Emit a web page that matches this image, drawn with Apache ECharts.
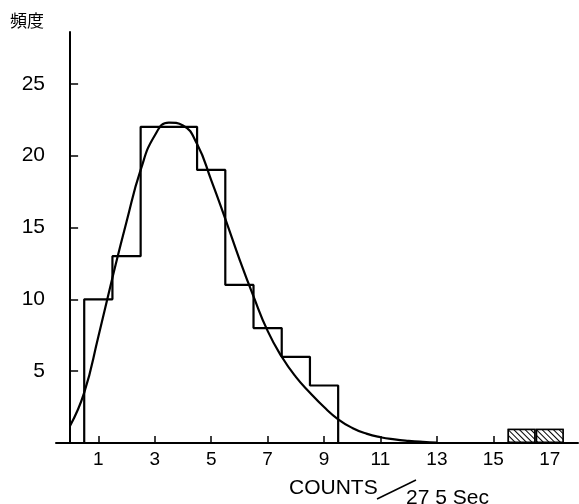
<!DOCTYPE html>
<html>
<head>
<meta charset="utf-8">
<script src="https://cdn.jsdelivr.net/npm/echarts@6/dist/echarts.min.js"></script>
<style>
  html, body { margin: 0; padding: 0; background: #fff; }
  #chart { width: 579px; height: 504px; }
</style>
</head>
<body>
<div id="chart"></div>
<script>
// histogram bins (counts per 27.5 s) and frequency
var bins = [1, 2, 3, 4, 5, 6, 7, 8, 9];
var freq = [10, 13, 22, 22, 19, 11, 8, 6, 4];

// hatched bins at the far right
var hatchBins = [16, 17];
var hatchFreq = [1, 1];

// fitted curve
var curveX = [0, 0.5, 1, 1.5, 2, 2.5, 3, 3.5, 4, 4.5, 5, 5.5, 6, 6.5, 7, 7.5, 8, 8.5, 9, 9.5, 10, 10.5, 11, 11.5, 12, 12.5, 13];
var curveY = [1.2, 3.5, 7.4, 11.5, 15.4, 19.0, 21.4, 22.3, 22.1, 20.8, 18.3, 15.6, 12.8, 10.2, 7.8, 6.0, 4.6, 3.5, 2.5, 1.65, 1.05, 0.65, 0.4, 0.25, 0.15, 0.08, 0.03];

var xTicks = [1, 3, 5, 7, 9, 11, 13, 15, 17];
var yTicks = [5, 10, 15, 20, 25];

// step outline of the histogram, built from the bins
var stepData = [[bins[0] - 0.5, 0]];
bins.forEach(function (b, i) {
  stepData.push([b - 0.5, freq[i]]);
});
stepData.push([bins[bins.length - 1] + 0.5, 0]);

var curveData = curveX.map(function (x, i) { return [x, curveY[i]]; });
var hatchData = hatchBins.map(function (b, i) { return [b, hatchFreq[i]]; });

var chartDom = document.getElementById("chart");
var myChart = echarts.init(chartDom);
var option;

option = {
  animation: false,
  backgroundColor: "#fff",
  grid: { left: 56, right: 1, top: 32, bottom: 61 },
  xAxis: {
    type: "value",
    min: -0.5,
    max: 18,
    splitLine: { show: false },
    axisLine: { lineStyle: { color: "#000", width: 2 } },
    axisTick: {
      inside: true,
      length: 7,
      customValues: xTicks,
      lineStyle: { color: "#000", width: 1.5 }
    },
    axisLabel: {
      customValues: xTicks,
      color: "#000",
      fontSize: 19,
      fontFamily: "Liberation Sans",
      margin: 7
    }
  },
  yAxis: {
    type: "value",
    min: 0,
    max: 28.6,
    interval: 5,
    splitLine: { show: false },
    axisLine: { lineStyle: { color: "#000", width: 2 } },
    axisTick: {
      inside: true,
      length: 8,
      customValues: yTicks,
      lineStyle: { color: "#000", width: 1.5 }
    },
    axisLabel: {
      customValues: yTicks,
      color: "#000",
      fontSize: 21,
      fontFamily: "Liberation Sans",
      margin: 11
    }
  },
  series: [
    {
      type: "line",
      step: "end",
      data: stepData,
      symbol: "none",
      lineStyle: { color: "#000", width: 2.2 },
      z: 3
    },
    {
      type: "line",
      data: curveData,
      smooth: 0.5,
      symbol: "none",
      lineStyle: { color: "#000", width: 2.2 },
      z: 4
    },
    {
      type: "bar",
      data: hatchData,
      barWidth: 28,
      itemStyle: {
        color: "#fff",
        borderColor: "#000",
        borderWidth: 1.5,
        decal: {
          symbol: "rect",
          symbolSize: 1,
          color: "#000",
          backgroundColor: "#fff",
          dashArrayX: [1, 0],
          dashArrayY: [1, 3],
          rotation: Math.PI / 4
        }
      },
      z: 2
    }
  ],
  graphic: [
    {
      type: "text",
      left: 10,
      top: 12,
      style: { text: "頻度", fontSize: 17, fontFamily: "Noto Sans CJK JP", fill: "#000" }
    },
    {
      type: "text",
      left: 289,
      top: 478,
      style: { text: "COUNTS", fontSize: 21, fontFamily: "Liberation Sans", fill: "#000" }
    },
    {
      type: "line",
      shape: { x1: 377, y1: 499, x2: 416, y2: 480 },
      style: { stroke: "#000", lineWidth: 1.5 }
    },
    {
      type: "text",
      left: 406,
      top: 488,
      style: { text: "27 5 Sec", fontSize: 21, fontFamily: "Liberation Sans", fill: "#000" }
    }
  ]
};

option && myChart.setOption(option);
</script>
</body>
</html>
